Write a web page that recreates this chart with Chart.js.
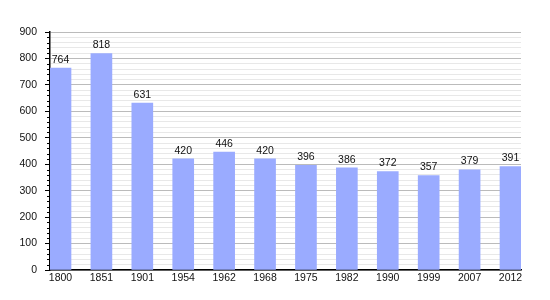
<!DOCTYPE html>
<html>
<head>
<meta charset="utf-8">
<script src="https://cdn.jsdelivr.net/npm/chart.js@4.4.1/dist/chart.umd.min.js"></script>
<style>
    html, body { margin: 0; padding: 0; background: #fff; }
    #wrap { width: 550px; height: 300px; }
</style>
</head>
<body>
<div id="wrap"><canvas id="chart"></canvas></div>
<script>
    "use strict";

    const years = ['1800', '1851', '1901', '1954', '1962', '1968', '1975', '1982', '1990', '1999', '2007', '2012'];
    const population = [764, 818, 631, 420, 446, 420, 396, 386, 372, 357, 379, 391];
    const yMax = 900;
    const fontFamily = '"Liberation Sans", Arial, sans-serif';

    // bars sit on a linear x scale so they can reach the plot edges
    let points = population.map((v, i) => ({ x: i, y: v }));

    const valueLabels = {
        id: 'valueLabels',
        afterDatasetsDraw(chart) {
            let ctx = chart.ctx;
            let meta = chart.getDatasetMeta(0);
            ctx.save();
            ctx.font = '10.5px ' + fontFamily;
            ctx.fillStyle = '#111';
            ctx.textAlign = 'center';
            ctx.textBaseline = 'bottom';
            meta.data.forEach((bar, i) => {
                ctx.fillText(population[i], bar.x, bar.y - 3);
            });
            ctx.restore();
        }
    };

    // short ticks for the minor steps (major ones come from the grid)
    const minorTicks = {
        id: 'minorTicks',
        afterDraw(chart) {
            let ctx = chart.ctx;
            let y = chart.scales.y;
            ctx.save();
            ctx.strokeStyle = '#000';
            ctx.lineWidth = 1;
            y.ticks.forEach((t) => {
                if (t.value % 100 === 0) return;
                let py = Math.round(y.getPixelForValue(t.value)) + 0.5;
                ctx.beginPath();
                ctx.moveTo(y.right - 3, py);
                ctx.lineTo(y.right, py);
                ctx.stroke();
            });
            ctx.restore();
        }
    };

    new Chart(document.getElementById('chart'), {
        type: 'bar',
        data: {
            datasets: [{
                data: points,
                backgroundColor: '#9aabff',
                barThickness: 21,
                borderWidth: 0
            }]
        },
        options: {
            responsive: true,
            maintainAspectRatio: false,
            animation: false,
            layout: { padding: { top: 32, right: 29, left: 0, bottom: 0 } },
            plugins: {
                legend: { display: false },
                tooltip: { enabled: false }
            },
            scales: {
                x: {
                    type: 'linear',
                    offset: false,
                    min: -0.2567,
                    max: 11.2567,
                    afterFit: (scale) => { scale.height = 30; },
                    ticks: {
                        stepSize: 1,
                        includeBounds: false,
                        autoSkip: false,
                        maxRotation: 0,
                        padding: 2,
                        color: '#111',
                        font: { family: fontFamily, size: 10.5 },
                        callback: (v) => years[v] ?? ''
                    },
                    grid: { display: false, drawTicks: false },
                    border: { display: true, color: '#000', width: 1.5 }
                },
                y: {
                    min: 0,
                    max: yMax,
                    afterFit: (scale) => { scale.width = 50; },
                    ticks: {
                        stepSize: 20,
                        autoSkip: false,
                        padding: 8,
                        color: '#111',
                        font: { family: fontFamily, size: 10.5 },
                        callback: (v) => (v % 100 === 0 ? v : '')
                    },
                    grid: {
                        color: (c) => (c.tick && c.tick.value % 100 === 0 ? '#bbbbbb' : '#e8e8e8'),
                        tickColor: (c) => (c.tick && c.tick.value % 100 === 0 ? '#000' : 'rgba(0,0,0,0)'),
                        tickLength: 5,
                        lineWidth: 1
                    },
                    border: { display: true, color: '#000', width: 1.5 }
                }
            }
        },
        plugins: [valueLabels, minorTicks]
    });
</script>
</body>
</html>
